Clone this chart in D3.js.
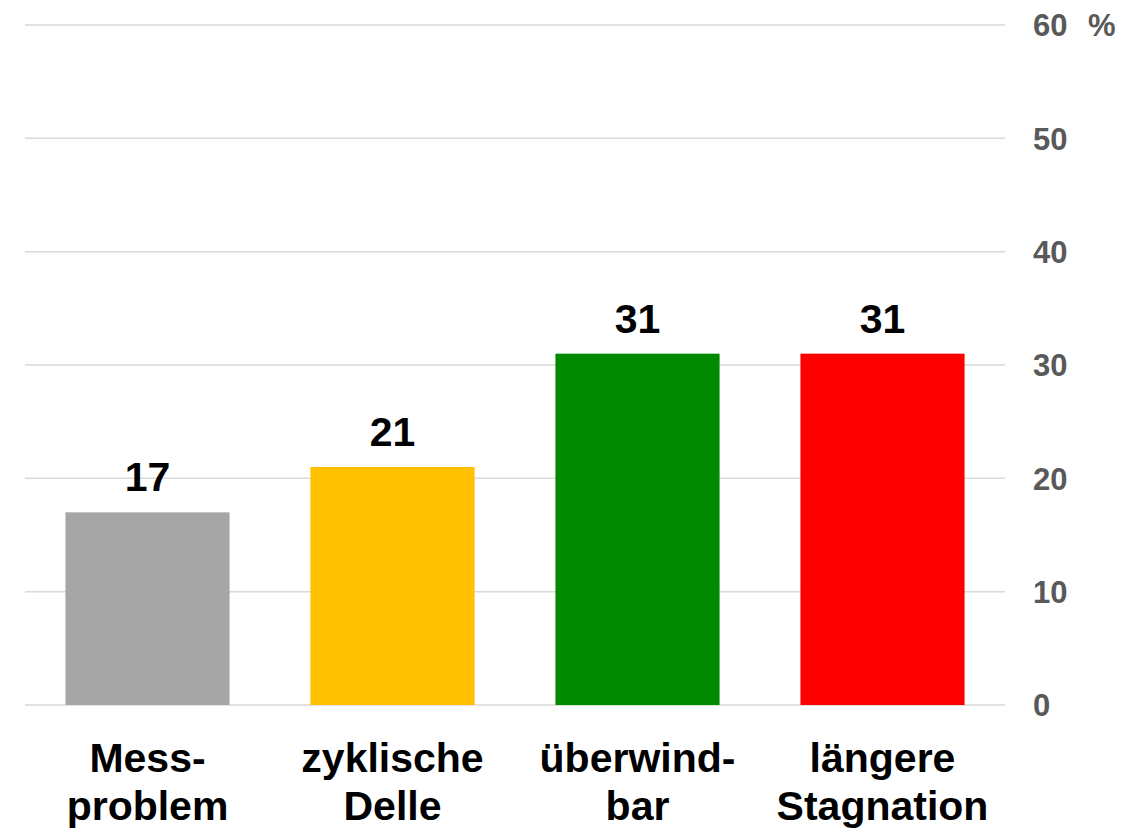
<!DOCTYPE html>
<html>
<head>
<meta charset="utf-8">
<script src="https://cdn.jsdelivr.net/npm/d3@7"></script>
<style>
  html, body { margin: 0; padding: 0; background: #fff; }
  svg { display: block; font-family: "Liberation Sans", Arial, sans-serif; }
</style>
</head>
<body>
<svg id="chart" width="1145" height="829"></svg>
<script>
const categories = [["Mess-", "problem"], ["zyklische", "Delle"], ["überwind-", "bar"], ["längere", "Stagnation"]];
const values = [17, 21, 31, 31];
const colors = ["#a6a6a6", "#ffc000", "#008a00", "#ff0000"];
const tickValues = [0, 10, 20, 30, 40, 50, 60];
const unitLabel = "%";

(function () {
const svg = d3.select("#chart");
const plotLeft = 25, plotRight = 1005, plotTop = 25, plotBottom = 705;

const x = d3.scaleBand()
  .domain(d3.range(values.length))
  .range([plotLeft, plotRight])
  .paddingInner(0.33)
  .paddingOuter(0.165);

const y = d3.scaleLinear().domain([0, 60]).range([plotBottom, plotTop]);

// gridlines
svg.append("g").selectAll("line")
  .data(tickValues)
  .join("line")
  .attr("x1", plotLeft).attr("x2", plotRight)
  .attr("y1", d => y(d)).attr("y2", d => y(d))
  .attr("stroke", "#d9d9d9")
  .attr("stroke-width", 1.5);

// right axis labels
const axis = d3.axisRight(y).tickValues(tickValues).tickSize(0).tickPadding(0);
const ag = svg.append("g").attr("transform", `translate(1033,0)`).call(axis);
ag.select(".domain").remove();
ag.selectAll("text")
  .attr("x", 0)
  .attr("text-anchor", "start")
  .attr("dy", "0.35em")
  .style("font-family", '"Liberation Sans", Arial, sans-serif')
  .style("font-size", "31px")
  .style("font-weight", "bold")
  .attr("fill", "#595959");

svg.append("text")
  .attr("x", 1088).attr("y", y(60))
  .attr("dy", "0.35em")
  .attr("font-size", 31).attr("font-weight", "bold")
  .attr("fill", "#595959")
  .text(unitLabel);

// bars
svg.append("g").selectAll("rect")
  .data(values)
  .join("rect")
  .attr("x", (d, i) => x(i))
  .attr("width", x.bandwidth())
  .attr("y", d => y(d))
  .attr("height", d => y(0) - y(d))
  .attr("fill", (d, i) => colors[i]);

// value labels
svg.append("g").selectAll("text")
  .data(values)
  .join("text")
  .attr("x", (d, i) => x(i) + x.bandwidth() / 2)
  .attr("y", d => y(d) - 21)
  .attr("text-anchor", "middle")
  .attr("font-size", 41).attr("font-weight", "bold")
  .attr("fill", "#000")
  .text(d => d);

// category labels
const cg = svg.append("g").selectAll("text")
  .data(categories)
  .join("text")
  .attr("text-anchor", "middle")
  .attr("font-size", 41).attr("font-weight", "bold")
  .attr("fill", "#000");
cg.each(function(lines, i) {
  const t = d3.select(this);
  lines.forEach((ln, j) => {
    t.append("tspan")
      .attr("x", x(i) + x.bandwidth() / 2)
      .attr("y", 772 + j * 48)
      .text(ln);
  });
});
})();
</script>
</body>
</html>
